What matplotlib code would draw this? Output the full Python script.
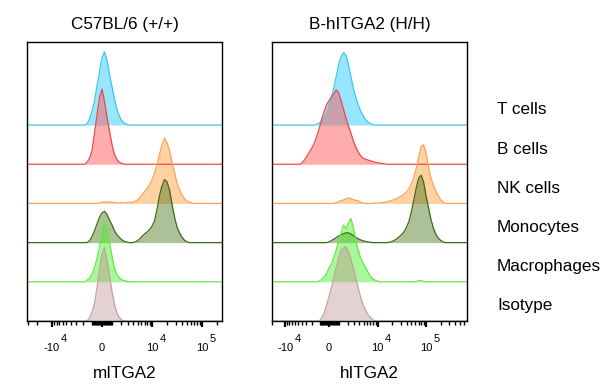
import numpy as np
import matplotlib
matplotlib.use("Agg")
import matplotlib.pyplot as plt
from matplotlib import transforms

plt.rcParams['font.family'] = ['Liberation Sans', 'DejaVu Sans']

# ---------------- data ----------------
panel_titles = ["C57BL/6 (+/+)", "B-hITGA2 (H/H)"]
axis_labels = ["mITGA2", "hITGA2"]
cell_types = ["T cells", "B cells", "NK cells", "Monocytes", "Macrophages", "Isotype"]
edge_colors = ["#3cc8f0", "#f04848", "#ffa252", "#3d6b14", "#66e844", "#c4a0a0"]
fill_colors = ["#33ccff", "#ff5a5a", "#ff9933", "#336600", "#44ee22", "#bc8f8f"]
fill_alphas = [0.5, 0.5, 0.45, 0.4, 0.45, 0.4]

tick_values = [-1e4, 0, 1e4, 1e5]
tick_bases = ["-10", "0", "10", "10"]
tick_exps = ["4", "", "4", "5"]

# histogram channel step (display decades) and per-series first channel
bin_step = 0.05
# mITGA2 panel (C57BL/6): heights in row units (row spacing = 1)
m_starts = [-0.35, -0.35, -0.10, -0.30, -0.35, -0.30]
m_T = [0, 0.03, 0.15, 0.35, 0.62, 1.0, 1.35, 1.72, 1.87, 1.65, 1.30, 0.98, 0.65,
       0.40, 0.22, 0.10, 0.05, 0.02, 0]
m_B = [0, 0.05, 0.15, 0.35, 0.8, 1.25, 1.7, 1.92, 1.6, 1.2, 0.85, 0.5, 0.25, 0.12,
       0.05, 0.02, 0]
m_NK = [0, 0.01, 0.03, 0.04, 0.03, 0.04, 0.03, 0.02, 0.01, 0.01, 0.02, 0.01, 0.02,
        0.03, 0.03, 0.05, 0.08, 0.14, 0.22, 0.30, 0.38, 0.48, 0.60, 0.78, 1.00,
        1.25, 1.50, 1.67, 1.55, 1.35, 1.05, 0.80, 0.52, 0.35, 0.22, 0.12, 0.06,
        0.03, 0.01, 0]
m_Mono = [0, 0.05, 0.15, 0.30, 0.48, 0.65, 0.76, 0.80, 0.72, 0.58, 0.45, 0.30,
          0.20, 0.13, 0.07, 0.03, 0.01, 0, 0, 0.01, 0.04, 0.09, 0.16, 0.22, 0.27,
          0.33, 0.42, 0.55, 0.85, 1.20, 1.45, 1.61, 1.55, 1.35, 0.98, 0.65, 0.40,
          0.25, 0.14, 0.06, 0.02, 0]
m_Macro = [0, 0.04, 0.10, 0.20, 0.35, 0.60, 0.90, 1.25, 1.55, 1.40, 1.00, 0.65,
           0.35, 0.18, 0.10, 0.05, 0.03, 0.01, 0]
m_Iso = [0, 0.08, 0.22, 0.45, 0.85, 1.30, 1.72, 1.88, 1.55, 1.15, 0.75, 0.42,
         0.20, 0.08, 0.02, 0]

# hITGA2 panel (B-hITGA2)
h_starts = [-0.30, -0.60, 0.10, -0.05, -0.25, -0.20]
h_T = [0, 0.02, 0.05, 0.10, 0.18, 0.30, 0.48, 0.70, 0.95, 1.25, 1.55, 1.75, 1.85,
       1.78, 1.55, 1.25, 0.95, 0.72, 0.52, 0.37, 0.25, 0.15, 0.08, 0.04, 0.01, 0]
h_B = [0, 0.04, 0.12, 0.22, 0.32, 0.42, 0.55, 0.72, 0.92, 1.15, 1.35, 1.52, 1.62,
       1.72, 1.80, 1.90, 1.82, 1.62, 1.40, 1.18, 0.98, 0.80, 0.60, 0.45, 0.32,
       0.22, 0.16, 0.13, 0.11, 0.09, 0.07, 0.05, 0.04, 0.03, 0.02, 0.01, 0]
h_NK = [0, 0.02, 0.05, 0.07, 0.09, 0.12, 0.14, 0.12, 0.10, 0.08, 0.07, 0.03, 0.01,
        0, 0, 0, 0, 0.01, 0.01, 0.01, 0.02, 0.03, 0.05, 0.06, 0.08, 0.10, 0.13,
        0.16, 0.20, 0.24, 0.30, 0.38, 0.50, 0.68, 0.90, 1.20, 1.45, 1.50, 1.30,
        0.95, 0.65, 0.48, 0.32, 0.20, 0.10, 0.03, 0]
h_Mono = [0, 0.02, 0.05, 0.09, 0.13, 0.17, 0.20, 0.23, 0.25, 0.25, 0.22, 0.18,
          0.14, 0.10, 0.07, 0.05, 0.03, 0.02, 0.01, 0, 0, 0, 0, 0, 0, 0, 0.01,
          0.03, 0.06, 0.10, 0.15, 0.21, 0.28, 0.40, 0.55, 0.80, 1.10, 1.40, 1.65,
          1.72, 1.55, 1.20, 0.90, 0.60, 0.38, 0.22, 0.12, 0.06, 0.02, 0]
h_Macro = [0, 0.02, 0.06, 0.12, 0.22, 0.35, 0.45, 0.62, 0.82, 1.05, 1.25, 1.45,
           1.35, 1.50, 1.62, 1.40, 1.05, 0.82, 0.62, 0.48, 0.38, 0.26, 0.15, 0.08,
           0.04, 0.02, 0, 0, 0, 0, 0, 0, 0, 0, 0, 0, 0, 0, 0, 0, 0, 0.01, 0.03,
           0.03, 0.01, 0]
h_Iso = [0, 0.08, 0.20, 0.40, 0.62, 0.85, 1.10, 1.38, 1.62, 1.80, 1.87, 1.88, 1.78,
         1.58, 1.35, 1.10, 0.85, 0.62, 0.42, 0.28, 0.17, 0.10, 0.03, 0]

panel_series = [[m_T, m_B, m_NK, m_Mono, m_Macro, m_Iso],
                [h_T, h_B, h_NK, h_Mono, h_Macro, h_Iso]]
panel_starts = [m_starts, h_starts]
# display range (decades) and negative-side compression of each panel
panel_ranges = [(-1.5, 2.4), (-1.175, 2.845)]
panel_negk = [1.0, 0.9]


def make_scale(k):
    ln10 = np.log(10)

    def fwd(x):
        y = np.arcsinh(np.asarray(x, float) / 2000.0) / ln10
        return np.where(y < 0, y * k, y)

    def inv(y):
        y = np.asarray(y, float)
        yy = np.where(y < 0, y / k, y)
        return 2000.0 * np.sinh(yy * ln10)
    return fwd, inv


fig = plt.figure(figsize=(6.07, 3.9), dpi=100)
W, H = 607, 390
ax_boxes = [(27, 42, 222, 321), (272, 42, 467, 321)]
top_lim = 7.12
n = len(cell_types)

minor_ticks = []
for e in [2, 3]:
    for k in range(1, 10):
        minor_ticks += [k * 10 ** e, -k * 10 ** e]
for k in range(2, 10):
    minor_ticks += [k * 1e4, -k * 1e4, k * 1e5]

axes = []
for p in range(2):
    x0, y0, x1, y1 = ax_boxes[p]
    ax = fig.add_axes([x0 / W, 1 - y1 / H, (x1 - x0) / W, (y1 - y0) / H])
    axes.append(ax)
    fwd, inv = make_scale(panel_negk[p])
    ax.set_xscale('function', functions=(fwd, inv))
    lo, hi = inv(np.array(panel_ranges[p]))

    for i in range(n):
        base = n - 1 - i
        vals = np.array(panel_series[p][i], float)
        u = panel_starts[p][i] + bin_step * np.arange(len(vals))
        xs = inv(u)
        xs = np.concatenate([[lo], xs, [hi]])
        hs = np.concatenate([[0], vals, [0]])
        ax.fill_between(xs, base, base + hs, color=fill_colors[i],
                        alpha=fill_alphas[i], linewidth=0)
        ax.plot(xs, base + hs, color=edge_colors[i], lw=0.9)

    ax.set_yticks([])
    ax.set_xticks(tick_values)
    ax.set_xticks(minor_ticks, minor=True)
    ax.set_xlim(lo, hi)
    ax.set_ylim(0, top_lim)
    ax.tick_params(axis='x', which='major', direction='out', length=4.5,
                   width=1.6, labelbottom=False)
    ax.tick_params(axis='x', which='minor', direction='out', length=3.0,
                   width=1.0, labelbottom=False)
    for s in ax.spines.values():
        s.set_linewidth(1.0)
        s.set_color('black')

    ph = y1 - y0
    xt = ax.get_xaxis_transform()
    for tv, tb, te in zip(tick_values, tick_bases, tick_exps):
        if tv < lo or tv > hi:
            continue
        bt = ax.text(tv, -30 / ph, tb, transform=xt, ha='center',
                     va='baseline', fontsize=8)
        if te:
            ax.annotate(te, xy=(1, -21.5 / ph), xycoords=(bt, xt),
                        xytext=(0.8, 0), textcoords='offset points',
                        ha='left', va='baseline', fontsize=8)

    ax.text(0.5, 1 + 12.7 / ph, panel_titles[p], transform=ax.transAxes,
            ha='center', va='baseline', fontsize=12.3)
    ax.text(0.5, -57 / ph, axis_labels[p], transform=ax.transAxes,
            ha='center', va='baseline', fontsize=12.3)

ax2 = axes[1]
lab_tr = transforms.blended_transform_factory(ax2.transAxes, ax2.transData)
for i, name in enumerate(cell_types):
    base = n - 1 - i
    ax2.text((497 - 272) / 195, base + 0.27, name, transform=lab_tr,
             ha='left', va='baseline', fontsize=12.3, clip_on=False)

fig.savefig("out.png", dpi=100)
